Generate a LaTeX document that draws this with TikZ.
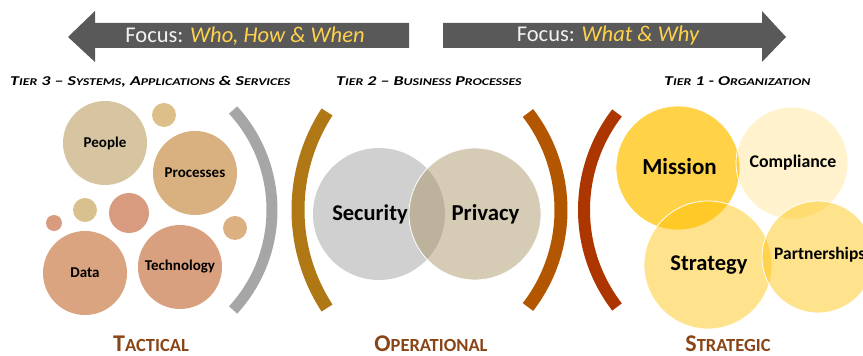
\documentclass[tikz,border=0pt]{standalone}
\usepackage{fontspec}
\setmainfont{Carlito}
\definecolor{arrowgray}{HTML}{595959}
\definecolor{focusyel}{HTML}{FFD24D}
\definecolor{focuswhite}{HTML}{F2F2F2}
\definecolor{lblbrown}{HTML}{8A4516}
\definecolor{bgray}{HTML}{A6A6A6}
\definecolor{bgold}{HTML}{AF7814}
\definecolor{borange}{HTML}{B35600}
\definecolor{bred}{HTML}{AD3500}
\definecolor{cpeople}{HTML}{D6C5A0}
\definecolor{ctopsmall}{HTML}{DDBF8A}
\definecolor{cprocess}{HTML}{D9B07F}
\definecolor{csalmon}{HTML}{D99B80}
\definecolor{ctan}{HTML}{D9C08F}
\definecolor{cright}{HTML}{DDB082}
\definecolor{cdata}{HTML}{D9A47F}
\definecolor{ctech}{HTML}{D9A080}
\definecolor{csec}{HTML}{D0D0D0}
\definecolor{cpriv}{RGB}{168,147,100}
\definecolor{cgold}{HTML}{FFC000}
\newcommand\fsz[1]{\fontsize{#1}{#1}\selectfont}
\newcommand\tsc[2]{{\fsz{13.5}#1}{\fsz{10.4}#2}}
\newcommand\bsc[2]{{\fsz{24}#1}{\fsz{18.5}#2}}
\newcommand\widen[1]{\scalebox{1.33}[1]{#1}}
\tikzset{
  bubble/.style={circle, inner sep=0pt, minimum size=#1, text=black, font=\bfseries\fsz{15}},
  bracketline/.style={line width=#1, line cap=butt},
  tierlabel/.style={font=\bfseries\itshape\fsz{13.5}, text=black, inner sep=0pt},
  botlabel/.style={font=\bfseries, text=lblbrown, inner sep=0pt},
  gold/.style={fill=cgold, fill opacity=#1, text opacity=1, draw=white, line width=0.8pt},
}
\begin{document}
\begin{tikzpicture}[x=1pt,y=1pt]
\useasboundingbox (0,0) rectangle (863,356);
% arrows
\fill[arrowgray] (409,333) -- (95,333) -- (95,345) -- (68,319) -- (95,294) -- (95,308) -- (409,308) -- cycle;
\fill[arrowgray] (443,333) -- (762,333) -- (762,345) -- (786,319) -- (762,294) -- (762,308) -- (443,308) -- cycle;
\node[inner sep=0pt, font=\fsz{22.5}] (focusL) at (245,320) {\textcolor{focuswhite}{Focus:} \textcolor{focusyel}{\itshape Who, How \& When}};
\node[inner sep=0pt, font=\fsz{22.5}] (focusR) at (608,320) {\textcolor{focuswhite}{Focus:} \textcolor{focusyel}{\itshape What \& Why}};
% tier labels
\node[tierlabel, anchor=base west] (t3) at (10,270.5) {\widen{\tsc{T}{IER} 3 – \tsc{S}{YSTEMS}, \tsc{A}{PPLICATIONS} \& \tsc{S}{ERVICES}}};
\node[tierlabel, anchor=base west] (t2) at (336,270.5) {\widen{\tsc{T}{IER} 2 – \tsc{B}{USINESS} \tsc{P}{ROCESSES}}};
\node[tierlabel, anchor=base west] (t1) at (664,270.5) {\widen{\tsc{T}{IER} 1 - \tsc{O}{RGANIZATION}}};
% tier 3 bubbles
\node[bubble=84pt, fill=cpeople] (people) at (105,213) {People};
\node[bubble=24pt, fill=ctopsmall] (s1) at (164,241) {};
\node[bubble=84pt, fill=cprocess] (processes) at (195,183) {Processes};
\node[bubble=40pt, fill=csalmon] (s2) at (129,143) {};
\node[bubble=24pt, fill=ctan] (s3) at (85,146) {};
\node[bubble=16pt, fill=csalmon] (s4) at (54,133) {};
\node[bubble=24pt, fill=cright] (s5) at (235,128) {};
\node[bubble=84pt, fill=cdata] (data) at (85,83) {Data};
\node[bubble=84pt, fill=ctech] (tech) at (180,89) {Technology};
% brackets
\draw[bracketline=11pt, bgray] (124,146) ++(-42.5:148) arc[start angle=-42.5, end angle=42.5, radius=148];
\draw[bracketline=13pt, bgold] (478,146) ++(147:180) arc[start angle=147, end angle=213, radius=180];
\draw[bracketline=13pt, borange] (402,146) ++(-37.6:159) arc[start angle=-37.6, end angle=37.6, radius=159];
\draw[bracketline=12pt, bred] (743,146) ++(142.4:159) arc[start angle=142.4, end angle=217.6, radius=159];
% tier 2
\node[bubble=132pt, fill=csec] (security) at (379,142) {};
\node[bubble=132pt, fill=cpriv, fill opacity=0.47, text opacity=1, draw=white, line width=0.8pt] (privacy) at (475,142) {};
\node[font=\bfseries\fsz{22.5}, inner sep=0pt] (sectext) at (370,142) {Security};
\node[font=\bfseries\fsz{22.8}, inner sep=0pt] (privtext) at (485.5,142) {Privacy};
% tier 1
\node[bubble=124pt, gold=0.72] (mission) at (678,188) {};
\node[bubble=112pt, gold=0.2] (compliance) at (792,193) {};
\node[bubble=128pt, gold=0.45] (strategy) at (708,91) {};
\node[bubble=112pt, gold=0.45] (partner) at (818,99) {};
\node[font=\bfseries\fsz{23}, inner sep=0pt] (misstext) at (679.5,189) {Mission};
\node[font=\bfseries\fsz{17.8}, inner sep=0pt] (comptext) at (793,193) {Compliance};
\node[font=\bfseries\fsz{22.5}, inner sep=0pt] (strattext) at (709,91) {Strategy};
\node[font=\bfseries\fsz{17.5}, inner sep=0pt, anchor=west] (parttext) at (774,101) {Partnerships};
% bottom labels
\node[botlabel, anchor=base] (tact) at (151,4) {\bsc{T}{ACTICAL}};
\node[botlabel, anchor=base] (oper) at (431,4) {\bsc{O}{PERATIONAL}};
\node[botlabel, anchor=base] (strat) at (728,4) {\bsc{S}{TRATEGIC}};
\end{tikzpicture}
\end{document}
